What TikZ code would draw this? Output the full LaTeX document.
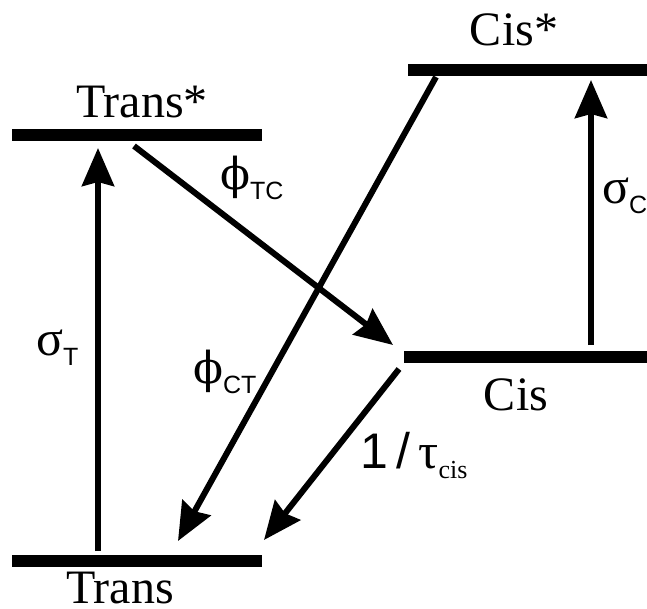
\documentclass[tikz,border=0pt]{standalone}
\usepackage{fontspec}
\setmainfont{Liberation Serif}
\newfontfamily\lsans{Liberation Sans}
\newfontfamily\dserif{DejaVu Serif}
\usetikzlibrary{arrows.meta}
\newcommand\subsf[1]{\raisebox{-10pt}{\lsans\fontsize{25}{25}\selectfont #1}}
\newcommand\subrm[1]{\raisebox{-10pt}{\fontsize{26}{26}\selectfont #1}}
\begin{document}
\begin{tikzpicture}[x=1pt,y=-1pt,
  bar/.style={line width=12pt},
  arr/.style={line width=6pt,-{Stealth[length=38pt,width=32pt,inset=4pt]}},
  lbl/.style={font=\fontsize{48}{50}\selectfont,inner sep=0pt,anchor=base},
  glbl/.style={font=\fontsize{50}{52}\selectfont,inner sep=0pt,anchor=base west}]
\useasboundingbox (0,0) rectangle (647,609);
% levels
\coordinate (tsL) at (12,135);  \coordinate (tsR) at (262,135);
\coordinate (csL) at (408,70);  \coordinate (csR) at (647,70);
\coordinate (cL) at (404,357);  \coordinate (cR) at (647,357);
\coordinate (tL) at (12,561);   \coordinate (tR) at (262,561);
\draw[bar] (tsL) -- (tsR);
\draw[bar] (csL) -- (csR);
\draw[bar] (cL) -- (cR);
\draw[bar] (tL) -- (tR);
% level labels
\node[lbl] (tslab) at (142,118) {Trans*};
\node[lbl] (cslab) at (514,46) {Cis*};
\node[lbl] (clab) at (516,410) {Cis};
\node[lbl] (tlab) at (120,603) {Trans};
% arrow end points
\coordinate (sTa) at (98,551);  \coordinate (sTb) at (98,148);
\coordinate (tcA) at (134,146); \coordinate (tcB) at (393,345);
\coordinate (ctA) at (436,77);  \coordinate (ctB) at (178,541);
\coordinate (tauA) at (399,369); \coordinate (tauB) at (264,540);
\coordinate (sCa) at (591,345); \coordinate (sCb) at (591,80);
\draw[arr] (sTa) -- (sTb);
\draw[arr] (tcA) -- (tcB);
\draw[arr] (ctA) -- (ctB);
\draw[arr] (tauA) -- (tauB);
\draw[arr] (sCa) -- (sCb);
% rate labels
\node[glbl] (sT) at (36,355) {σ\subsf{T}};
\node[glbl] (pTC) at (220,190) {{\dserif\fontsize{44}{46}\selectfont ϕ}\subsf{TC}};
\node[glbl] (pCT) at (193,383) {{\dserif\fontsize{44}{46}\selectfont ϕ}\subsf{CT}};
\node[glbl] (sC) at (602,204) {σ\subsf{C}};
\node[glbl] (tau) at (360,468) {{\lsans 1\,/}\,τ\subrm{cis}};
\end{tikzpicture}
\end{document}
